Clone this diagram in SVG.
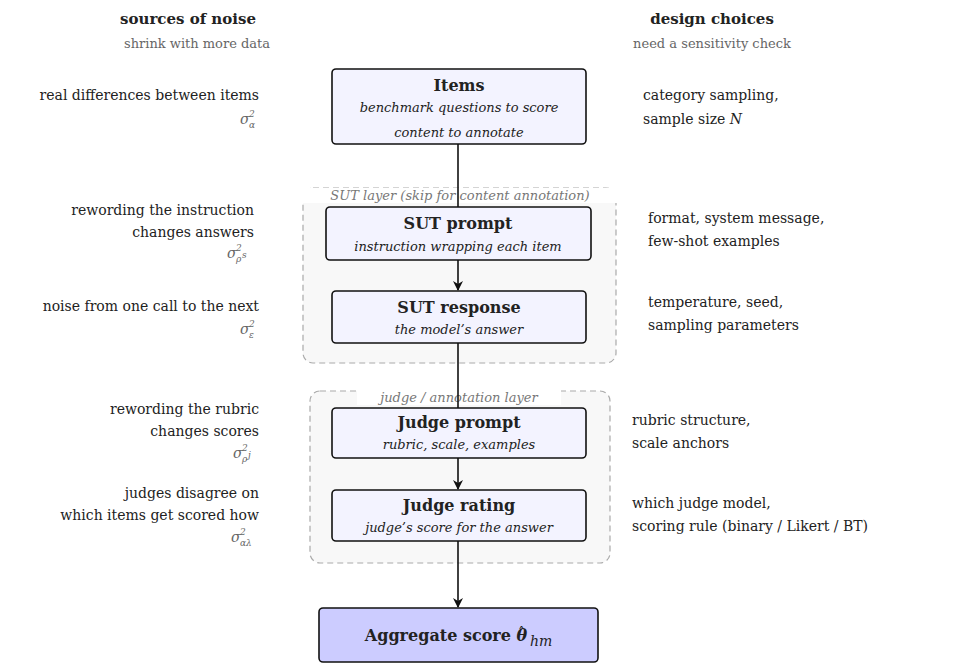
<svg xmlns="http://www.w3.org/2000/svg" width="954" height="669" viewBox="0 0 954 669">
<style>
text{font-family:"DejaVu Serif","Liberation Serif",serif;font-size:14px;fill:#222}
.h{font-weight:bold;font-size:15px}
.g{fill:#666;font-size:13px}
.r{text-anchor:end}
.c{text-anchor:middle}
.t{font-weight:bold;font-size:16px;text-anchor:middle}
.s{font-style:italic;font-size:13px;text-anchor:middle}
.box{fill:#f3f3ff;stroke:#111;stroke-width:1.6}
.grp{fill:#f8f8f8;stroke:#aaa;stroke-width:1.2;stroke-dasharray:6 4}
.lbl{font-style:italic;font-size:13px;fill:#777;text-anchor:middle}
.sg{font-style:italic;fill:#666;font-size:14px}
.sm{font-style:italic;fill:#666;font-size:9px}
line{stroke:#111;stroke-width:1.6}
</style>
<defs><marker id="a" viewBox="0 0 10 10" refX="9" refY="5" markerWidth="10" markerHeight="10" markerUnits="userSpaceOnUse" orient="auto"><path d="M0,0 L10,5 L0,10 L3,5 Z" fill="#111"/></marker></defs>
<rect width="954" height="669" fill="#fff"/>
<text class="h c" x="188" y="24">sources of noise</text>
<text class="g c" x="197" y="48">shrink with more data</text>
<text class="h c" x="712" y="24">design choices</text>
<text class="g c" x="712" y="48">need a sensitivity check</text>
<g id="sut-layer"><rect class="grp" x="303" y="188" width="313" height="175" rx="10"/><rect x="298" y="188" width="324" height="15" fill="#fff"/><text class="lbl" x="460" y="200">SUT layer (skip for content annotation)</text></g>
<g id="judge-layer"><rect class="grp" x="310" y="391" width="300" height="172" rx="10"/><rect x="357" y="390" width="204" height="15" fill="#fff"/><text class="lbl" x="459" y="402">judge / annotation layer</text></g>
<g id="connectors">
<line x1="458" y1="144" x2="458" y2="207"/>
<line x1="458" y1="260" x2="458" y2="290" marker-end="url(#a)"/>
<line x1="458" y1="343" x2="458" y2="408"/>
<line x1="458" y1="458" x2="458" y2="489" marker-end="url(#a)"/>
<line x1="458" y1="541" x2="458" y2="607" marker-end="url(#a)"/>
</g>
<g id="items"><rect class="box" x="332" y="69" width="254" height="75" rx="4"/><text class="t" x="459" y="91">Items</text><text class="s" x="459" y="112">benchmark questions to score</text><text class="s" x="459" y="137">content to annotate</text></g>
<g id="sut-prompt"><rect class="box" x="326" y="207" width="265" height="53" rx="4"/><text class="t" x="458" y="229">SUT prompt</text><text class="s" x="458" y="251">instruction wrapping each item</text></g>
<g id="sut-response"><rect class="box" x="332" y="291" width="254" height="52" rx="4"/><text class="t" x="459" y="313">SUT response</text><text class="s" x="459" y="334">the model’s answer</text></g>
<g id="judge-prompt"><rect class="box" x="332" y="408" width="254" height="50" rx="4"/><text class="t" x="459" y="428">Judge prompt</text><text class="s" x="459" y="449">rubric, scale, examples</text></g>
<g id="judge-rating"><rect class="box" x="332" y="490" width="254" height="51" rx="4"/><text class="t" x="459" y="511">Judge rating</text><text class="s" x="459" y="532">judge’s score for the answer</text></g>
<g id="aggregate"><rect x="319" y="608" width="279" height="54" rx="4" fill="#ccccff" stroke="#111" stroke-width="1.6"/><text class="t" x="446" y="641">Aggregate score <tspan font-style="italic">θ</tspan></text><text x="518" y="638" font-size="13">ˆ</text><text x="530" y="646" font-size="12" font-style="italic">hm</text></g>
<g id="left">
<text class="r" x="259" y="100">real differences between items</text>
<text class="sg" x="240" y="124">σ</text><text class="sm" x="249" y="117">2</text><text class="sm" x="249" y="128">α</text>
<text class="r" x="254" y="215">rewording the instruction</text>
<text class="r" x="254" y="237">changes answers</text>
<text class="sg" x="227" y="258">σ</text><text class="sm" x="236" y="251">2</text><text class="sm" x="236" y="262">ρ</text><text class="sm" x="242" y="258" font-size="7">s</text>
<text class="r" x="259" y="311">noise from one call to the next</text>
<text class="sg" x="240" y="334">σ</text><text class="sm" x="249" y="327">2</text><text class="sm" x="249" y="338">ε</text>
<text class="r" x="259" y="414">rewording the rubric</text>
<text class="r" x="259" y="436">changes scores</text>
<text class="sg" x="233" y="458">σ</text><text class="sm" x="242" y="451">2</text><text class="sm" x="242" y="462">ρ</text><text class="sm" x="248" y="458" font-size="7">j</text>
<text class="r" x="259" y="498">judges disagree on</text>
<text class="r" x="259" y="520">which items get scored how</text>
<text class="sg" x="231" y="542">σ</text><text class="sm" x="240" y="535">2</text><text class="sm" x="240" y="546">αλ</text>
</g>
<g id="right">
<text x="643" y="100">category sampling,</text>
<text x="643" y="124">sample size <tspan font-style="italic">N</tspan></text>
<text x="648" y="223">format, system message,</text>
<text x="648" y="246">few-shot examples</text>
<text x="648" y="307">temperature, seed,</text>
<text x="648" y="330">sampling parameters</text>
<text x="632" y="425">rubric structure,</text>
<text x="632" y="448">scale anchors</text>
<text x="632" y="508">which judge model,</text>
<text x="632" y="531">scoring rule (binary / Likert / BT)</text>
</g>
</svg>
